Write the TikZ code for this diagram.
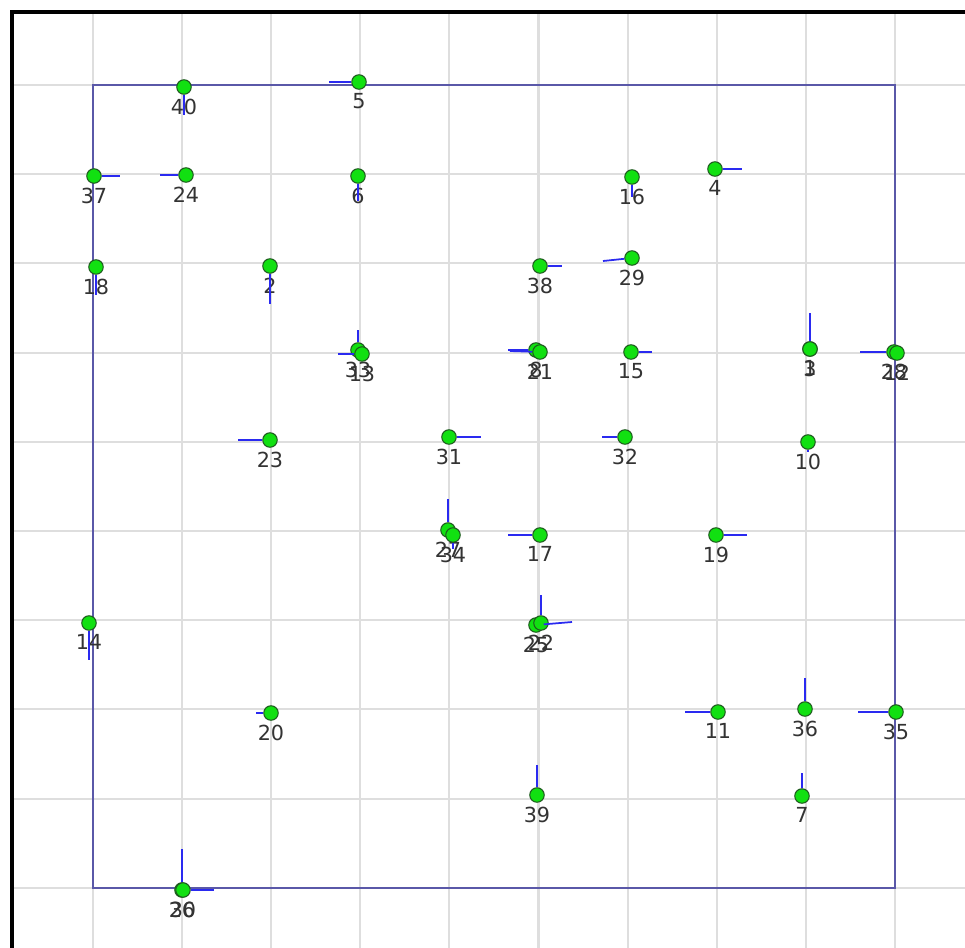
\documentclass[tikz,border=0pt]{standalone}
\usepackage{fontspec}
\setmainfont{DejaVu Sans}
\usepackage{xcolor}
\usetikzlibrary{arrows.meta}
\definecolor{ptfill}{HTML}{11E011}
\definecolor{ptline}{HTML}{1E5A1E}
\definecolor{frameline}{HTML}{5A58A8}
\definecolor{tickline}{HTML}{2A2AF0}
\definecolor{gridgray}{HTML}{DEDEDE}
\definecolor{labeltext}{HTML}{333333}

\begin{document}
\begin{tikzpicture}[x=0.02cm,y=-0.02cm,
  pt/.style={circle,draw=ptline,fill=ptfill,line width=0.6pt,minimum size=0.29cm,inner sep=0pt,
             label={[lbl]below:#1}},
  lbl/.style={font=\fontsize{11.8}{14}\selectfont,text=labeltext,inner sep=0.5pt,label distance=1.5pt},
  dirline/.style={draw=tickline,line width=1pt},
  gridline/.style={draw=gridgray,line width=1.2pt}]
  \useasboundingbox (0,0) rectangle (965,948);
  \fill[white] (0,0) rectangle (965,948);
  \foreach \i in {0,...,9} {
    \draw[gridline] ({93+89.1*\i},12) -- ({93+89.1*\i},948);
    \draw[gridline] (12,{85+89.2*\i}) -- (965,{85+89.2*\i});
  }
  \draw[frameline,line width=1.1pt] (93,85) rectangle (895,888);
  \draw[black,line width=2.4pt] (12,948) -- (12,12) -- (965,12);

  \node[pt=40] (p40) at (184,87) {};
  \node[pt=5]  (p5)  at (359,82) {};
  \node[pt=37] (p37) at (94,176) {};
  \node[pt=24] (p24) at (186,175) {};
  \node[pt=6]  (p6)  at (358,176) {};
  \node[pt=16] (p16) at (632,177) {};
  \node[pt=4]  (p4)  at (715,169) {};
  \node[pt=18] (p18) at (96,267) {};
  \node[pt=2]  (p2)  at (270,266) {};
  \node[pt=38] (p38) at (540,266) {};
  \node[pt=29] (p29) at (632,258) {};
  \node[pt=33] (p33) at (358,350) {};
  \node[pt=13] (p13) at (362,354) {};
  \node[pt=8]  (p8)  at (536,350) {};
  \node[pt=21] (p21) at (540,352) {};
  \node[pt=15] (p15) at (631,352) {};
  \node[pt=1]  (p1)  at (810,349) {};
  \node[pt=3]  (p3)  at (810,349) {};
  \node[pt=28] (p28) at (894,352) {};
  \node[pt=12] (p12) at (897,353) {};
  \node[pt=31] (p31) at (449,437) {};
  \node[pt=32] (p32) at (625,437) {};
  \node[pt=23] (p23) at (270,440) {};
  \node[pt=10] (p10) at (808,442) {};
  \node[pt=27] (p27) at (448,530) {};
  \node[pt=34] (p34) at (453,535) {};
  \node[pt=17] (p17) at (540,535) {};
  \node[pt=19] (p19) at (716,535) {};
  \node[pt=14] (p14) at (89,623) {};
  \node[pt=25] (p25) at (536,625) {};
  \node[pt=22] (p22) at (541,623) {};
  \node[pt=20] (p20) at (271,713) {};
  \node[pt=11] (p11) at (718,712) {};
  \node[pt=36] (p36) at (805,709) {};
  \node[pt=35] (p35) at (896,712) {};
  \node[pt=39] (p39) at (537,795) {};
  \node[pt=7]  (p7)  at (802,796) {};
  \node[pt=26] (p26) at (182,890) {};
  \node[pt=30] (p30) at (183,890) {};

  \draw[dirline] (p40) -- ++(0,28);
  \draw[dirline] (p5) -- ++(-30,0);
  \draw[dirline] (p37) -- ++(26,0);
  \draw[dirline] (p24) -- ++(-26,0);
  \draw[dirline] (p6) -- ++(0,25);
  \draw[dirline] (p16) -- ++(0,20);
  \draw[dirline] (p4) -- ++(27,0);
  \draw[dirline] (p18) -- ++(0,28);
  \draw[dirline] (p2) -- ++(0,38);
  \draw[dirline] (p38) -- ++(22,0);
  \draw[dirline] (p29) -- ++(-29,3);
  \draw[dirline] (p33) -- ++(0,-20);
  \draw[dirline] (p13) -- ++(-24,0);
  \draw[dirline] (p8) -- ++(-28,0);
  \draw[dirline] (p21) -- ++(-30,-1);
  \draw[dirline] (p15) -- ++(21,0);
  \draw[dirline] (p1) -- ++(0,-36);
  \draw[dirline] (p3) -- ++(0,-30);
  \draw[dirline] (p28) -- ++(-34,0);
  \draw[dirline] (p31) -- ++(32,0);
  \draw[dirline] (p32) -- ++(-23,0);
  \draw[dirline] (p23) -- ++(-32,0);
  \draw[dirline] (p10) -- ++(0,10);
  \draw[dirline] (p27) -- ++(0,-31);
  \draw[dirline] (p34) -- ++(0,14);
  \draw[dirline] (p17) -- ++(-32,0);
  \draw[dirline] (p19) -- ++(31,0);
  \draw[dirline] (p14) -- ++(0,37);
  \draw[dirline] (p22) -- ++(0,-28);
  \draw[dirline] (p25) -- ++(36,-3);
  \draw[dirline] (p20) -- ++(-15,0);
  \draw[dirline] (p11) -- ++(-33,0);
  \draw[dirline] (p36) -- ++(0,-31);
  \draw[dirline] (p35) -- ++(-38,0);
  \draw[dirline] (p39) -- ++(0,-30);
  \draw[dirline] (p7) -- ++(0,-23);
  \draw[dirline] (p26) -- ++(0,-41);
  \draw[dirline] (p30) -- ++(31,0);
\end{tikzpicture}
\end{document}
